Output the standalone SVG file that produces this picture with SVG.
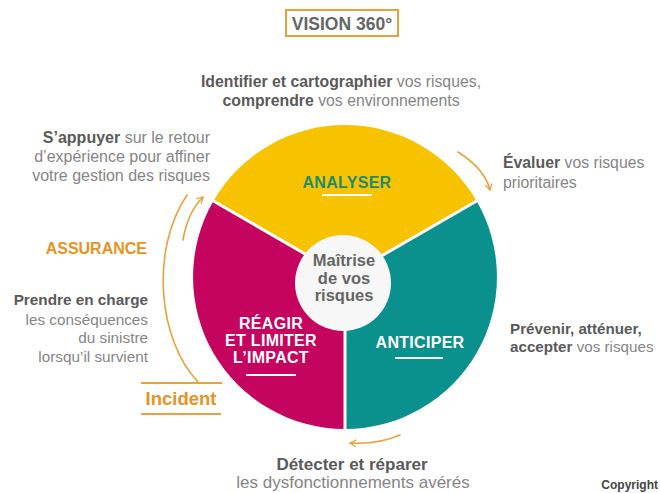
<svg xmlns="http://www.w3.org/2000/svg" width="660" height="493" viewBox="0 0 660 493">
<defs>
<style>
text{font-family:"Liberation Sans","DejaVu Sans",sans-serif;}
.t{font-size:15.8px;fill:#858585;}
.b{font-weight:bold;fill:#5a5a5a;}
.or{fill:#E8931F;font-weight:bold;}
.seg{font-size:16px;font-weight:bold;fill:#fff;text-anchor:middle;letter-spacing:0.3px;}
.ctr{font-size:16.5px;font-weight:bold;fill:#666;text-anchor:middle;}
.ul{stroke:#fff;stroke-width:2;}
.arr{fill:none;stroke:#E9A23B;stroke-width:1.6;stroke-linecap:round;}
.sep{stroke:#fff;stroke-width:3;}
</style>
<marker id="ah" viewBox="0 0 10 10" refX="8" refY="5" markerWidth="8" markerHeight="8" orient="auto" markerUnits="userSpaceOnUse">
<path d="M1,1 L8,5 L1,9" fill="none" stroke="#E9A23B" stroke-width="1.6" stroke-linecap="round" stroke-linejoin="round"/>
</marker>
</defs>
<rect width="660" height="493" fill="#fff"/>

<g id="title">
<rect x="286" y="10" width="112" height="26" fill="none" stroke="#E6A238" stroke-width="2"/>
<text x="342" y="29.5" text-anchor="middle" font-size="17.5" font-weight="bold" fill="#666">VISION 360°</text>
</g>

<g id="wheel">
<path id="analyser" d="M345,277 L213.4,201 A152,152 0 0 1 476.6,201 Z" fill="#F7C300"/>
<path id="anticiper" d="M345,277 L476.6,201 A152,152 0 0 1 345,429 Z" fill="#0A918E"/>
<path id="reagir" d="M345,277 L345,429 A152,152 0 0 1 213.4,201 Z" fill="#C4045F"/>
<line class="sep" x1="345" y1="277" x2="213.4" y2="201"/>
<line class="sep" x1="345" y1="277" x2="476.6" y2="201"/>
<line class="sep" x1="345" y1="277" x2="345" y2="430"/>
</g>

<g id="center">
<circle cx="343" cy="283" r="48" fill="#F7F7F7"/>
<text x="344" y="266" class="ctr">Maîtrise</text>
<text x="344" y="284" class="ctr">de vos</text>
<text x="344" y="301" class="ctr">risques</text>
</g>

<g id="label-analyser">
<text x="347" y="188" class="seg" style="fill:#1F8B6C">ANALYSER</text>
<line class="ul" x1="322" y1="195" x2="372" y2="195"/>
</g>
<g id="label-reagir">
<text x="271" y="329" class="seg">RÉAGIR</text>
<text x="271" y="346" class="seg">ET LIMITER</text>
<text x="271" y="363" class="seg">L’IMPACT</text>
<line class="ul" x1="246" y1="375" x2="296" y2="375"/>
</g>
<g id="label-anticiper">
<text x="420" y="348" class="seg">ANTICIPER</text>
<line class="ul" x1="395" y1="358" x2="443" y2="358"/>
</g>

<g id="text-top">
<text x="341" y="87" text-anchor="middle" class="t"><tspan class="b">Identifier et cartographier</tspan> vos risques,</text>
<text x="341" y="106" text-anchor="middle" class="t"><tspan class="b">comprendre</tspan> vos environnements</text>
</g>
<g id="text-appuyer">
<text x="210" y="143" text-anchor="end" class="t" style="font-size:16px"><tspan class="b">S’appuyer</tspan> sur le retour</text>
<text x="210" y="162" text-anchor="end" class="t" style="font-size:16px">d’expérience pour affiner</text>
<text x="210" y="181" text-anchor="end" class="t" style="font-size:16px">votre gestion des risques</text>
</g>
<g id="text-evaluer">
<text x="503" y="168" class="t"><tspan class="b">Évaluer</tspan> vos risques</text>
<text x="503" y="188" class="t">prioritaires</text>
</g>
<g id="assurance">
<text x="147" y="254" text-anchor="end" font-size="16" class="or">ASSURANCE</text>
</g>
<g id="text-prendre">
<text x="148" y="305" text-anchor="end" class="t" style="font-size:15.3px"><tspan class="b">Prendre en charge</tspan></text>
<text x="148" y="325" text-anchor="end" class="t" style="font-size:15.3px">les conséquences</text>
<text x="148" y="343" text-anchor="end" class="t" style="font-size:15.3px">du sinistre</text>
<text x="148" y="362" text-anchor="end" class="t" style="font-size:15.3px">lorsqu’il survient</text>
</g>
<g id="incident">
<line x1="141" y1="383" x2="222" y2="383" stroke="#E9A23B" stroke-width="2"/>
<text x="181" y="405" text-anchor="middle" font-size="18.5" class="or">Incident</text>
<line x1="141" y1="414" x2="221" y2="414" stroke="#E9A23B" stroke-width="2"/>
</g>
<g id="text-prevenir">
<text x="510" y="334" class="t" style="font-size:15.2px"><tspan class="b">Prévenir, atténuer,</tspan></text>
<text x="510" y="352" class="t" style="font-size:15.2px"><tspan class="b">accepter</tspan> vos risques</text>
</g>
<g id="text-detecter">
<text x="352" y="470" text-anchor="middle" class="t" style="font-size:17px"><tspan class="b">Détecter et réparer</tspan></text>
<text x="353" y="488" text-anchor="middle" class="t" style="font-size:17px">les dysfonctionnements avérés</text>
</g>
<g id="copyright">
<text x="658" y="489" text-anchor="end" font-size="12" font-weight="bold" fill="#444">Copyright</text>
</g>

<g id="connectors">
<path class="arr" d="M198,382 C158,340 150,250 187,195"/>
<path class="arr" d="M183,240 C186,222 193,207 203,197" marker-end="url(#ah)"/>
<path class="arr" d="M458,152 C474,162 486,174 490,190" marker-end="url(#ah)"/>
<path class="arr" d="M400,435 C384,442 368,444 350,443" marker-end="url(#ah)"/>
</g>
</svg>
